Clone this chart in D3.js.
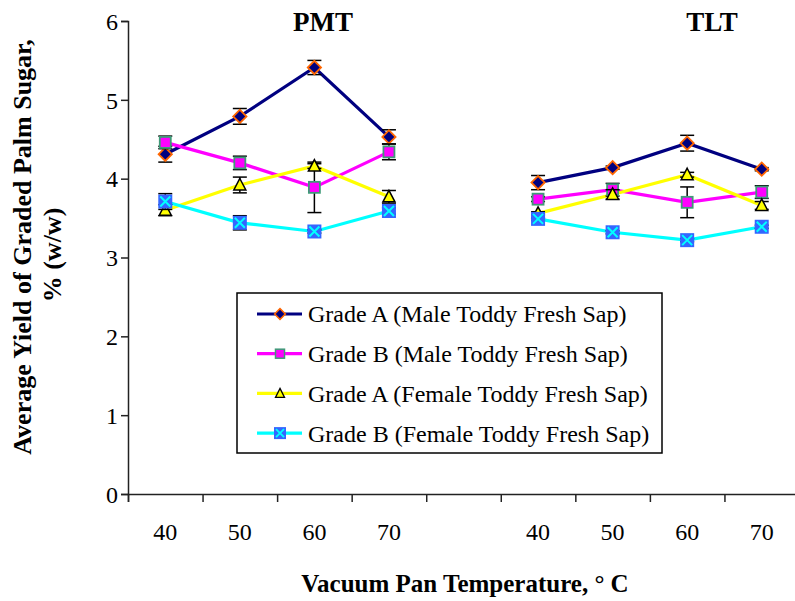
<!DOCTYPE html>
<html>
<head>
<meta charset="utf-8">
<script src="https://cdn.jsdelivr.net/npm/d3@7"></script>
<style>
  body { margin: 0; background: #fff; }
  svg { display: block; font-family: "Liberation Serif", "Times New Roman", serif; }
</style>
</head>
<body>
<div id="chart"></div>
<script>
// Category slots: PMT 40-70, an empty gap, TLT 40-70
const tickLabels = ["40", "50", "60", "70", "", "40", "50", "60", "70"];
const groups = ["PMT", "TLT"];
const pmtSlots = [0, 1, 2, 3];
const tltSlots = [5, 6, 7, 8];

// Average yield values (PMT then TLT)
const gradeAMale = { pmt: [4.31, 4.79, 5.41, 4.53], tlt: [3.95, 4.14, 4.45, 4.12] };
const gradeBMale = { pmt: [4.46, 4.20, 3.89, 4.34], tlt: [3.74, 3.86, 3.70, 3.83] };
const gradeAFemale = { pmt: [3.60, 3.92, 4.16, 3.77], tlt: [3.56, 3.80, 4.05, 3.66] };
const gradeBFemale = { pmt: [3.71, 3.44, 3.33, 3.59], tlt: [3.49, 3.32, 3.22, 3.39] };

// Error bar half-widths
const errAMale = { pmt: [0.10, 0.10, 0.09, 0.09], tlt: [0.09, 0.02, 0.10, 0.02] };
const errBMale = { pmt: [0.08, 0.085, 0.32, 0.10], tlt: [0.03, 0.08, 0.195, 0.08] };
const errAFemale = { pmt: [0.07, 0.10, 0.03, 0.08], tlt: [0.02, 0.06, 0.03, 0.05] };
const errBFemale = { pmt: [0.10, 0.09, 0.02, 0.04], tlt: [0.02, 0.02, 0.02, 0.02] };

const seriesNames = [
  "Grade A (Male Toddy Fresh Sap)",
  "Grade B (Male Toddy Fresh Sap)",
  "Grade A (Female Toddy Fresh Sap)",
  "Grade B (Female Toddy Fresh Sap)"
];
const yTicks = [0, 1, 2, 3, 4, 5, 6];

// Layout
const W = 795, H = 601;
const plot = { left: 128, right: 799, top: 21, bottom: 494 };

const svg = d3.select("#chart").append("svg")
  .attr("width", W)
  .attr("height", H);

const xBand = d3.scaleBand()
  .domain(d3.range(tickLabels.length))
  .range([plot.left, plot.right])
  .paddingInner(0).paddingOuter(0);

const xEdge = d3.scaleLinear()
  .domain([0, tickLabels.length])
  .range([plot.left, plot.right]);

const yScale = d3.scaleLinear()
  .domain([0, 6])
  .range([plot.bottom, plot.top]);

const cx = i => xBand(i) + xBand.bandwidth() / 2;

// styles per series
const styles = [
  { line: "#000080", marker: "diamond", fill: "#000080", stroke: "#FF6600" },
  { line: "#FF00FF", marker: "square", fill: "#FF00FF", stroke: "#3F9A78" },
  { line: "#FFFF00", marker: "triangle", fill: "#FFFF00", stroke: "#000000" },
  { line: "#00FFFF", marker: "xsquare", fill: "#3366FF", stroke: "#00FFFF" }
];

// build series from the arrays
const allSeries = [
  [gradeAMale, errAMale],
  [gradeBMale, errBMale],
  [gradeAFemale, errAFemale],
  [gradeBFemale, errBFemale]
].map(([vals, errs], k) => ({
  name: seriesNames[k],
  style: styles[k],
  segments: [
    pmtSlots.map((s, i) => ({ slot: s, v: vals.pmt[i], e: errs.pmt[i] })),
    tltSlots.map((s, i) => ({ slot: s, v: vals.tlt[i], e: errs.tlt[i] }))
  ]
}));

// draw one marker at (x, y)
function drawMarker(g, type, st, x, y) {
  if (type === "diamond") {
    g.append("path")
      .attr("d", d3.symbol().type(d3.symbolSquare).size(88)())
      .attr("transform", `translate(${x},${y}) rotate(45)`)
      .attr("fill", st.fill).attr("stroke", st.stroke).attr("stroke-width", 1.8);
  } else if (type === "square") {
    g.append("rect")
      .attr("x", x - 5.5).attr("y", y - 5.5).attr("width", 11).attr("height", 11)
      .attr("fill", st.fill).attr("stroke", st.stroke).attr("stroke-width", 1.8);
  } else if (type === "triangle") {
    g.append("path")
      .attr("d", `M${x},${y - 6.5}L${x + 6},${y + 5}L${x - 6},${y + 5}Z`)
      .attr("fill", st.fill).attr("stroke", st.stroke).attr("stroke-width", 1.5)
      .attr("stroke-linejoin", "miter");
  } else {
    g.append("rect")
      .attr("x", x - 7).attr("y", y - 7).attr("width", 14).attr("height", 14)
      .attr("fill", st.fill);
    g.append("path")
      .attr("d", `M${x - 5},${y - 5}L${x + 5},${y + 5}M${x + 5},${y - 5}L${x - 5},${y + 5}`)
      .attr("stroke", st.stroke).attr("stroke-width", 2);
  }
}

// axes
const yAxis = d3.axisLeft(yScale).tickValues(yTicks).tickSize(7).tickPadding(3).tickFormat(d3.format("d"));
const yG = svg.append("g").attr("transform", `translate(${plot.left},0)`).call(yAxis);
yG.select(".domain").attr("stroke", "#222").attr("stroke-width", 1.5);
yG.selectAll(".tick line").attr("stroke", "#222").attr("stroke-width", 1.5);
yG.selectAll("text").attr("font-size", 24).attr("font-family", "Liberation Serif").attr("fill", "#000").attr("dy", "0.34em");

const xTickAxis = d3.axisBottom(xEdge).tickValues(d3.range(tickLabels.length + 1)).tickSize(8).tickFormat("");
const xG = svg.append("g").attr("transform", `translate(0,${plot.bottom})`).call(xTickAxis);
xG.select(".domain").attr("stroke", "#222").attr("stroke-width", 1.5);
xG.selectAll(".tick line").attr("stroke", "#222").attr("stroke-width", 1.5);

const xLabAxis = d3.axisBottom(xBand).tickSize(0).tickPadding(29).tickFormat(i => tickLabels[i]);
const xl = svg.append("g").attr("transform", `translate(0,${plot.bottom})`).call(xLabAxis);
xl.select(".domain").remove();
xl.selectAll("text").attr("font-size", 24).attr("font-family", "Liberation Serif").attr("fill", "#000");

// lines
const line = d3.line().x(d => cx(d.slot)).y(d => yScale(d.v));
allSeries.forEach(s => {
  s.segments.forEach(seg => {
    svg.append("path")
      .datum(seg)
      .attr("d", line)
      .attr("fill", "none")
      .attr("stroke", s.style.line)
      .attr("stroke-width", 3.2);
  });
});

// error bars and markers, series by series
allSeries.forEach(s => {
  const g = svg.append("g");
  s.segments.flat().forEach(d => {
    const x = cx(d.slot);
    const y0 = yScale(d.v - d.e), y1 = yScale(d.v + d.e);
    g.append("line").attr("x1", x).attr("x2", x).attr("y1", y0).attr("y2", y1)
      .attr("stroke", "#000").attr("stroke-width", 1.5);
    [y0, y1].forEach(yy => {
      g.append("line").attr("x1", x - 7).attr("x2", x + 7).attr("y1", yy).attr("y2", yy)
        .attr("stroke", "#000").attr("stroke-width", 1.5);
    });
  });
  s.segments.flat().forEach(d => drawMarker(g, s.style.marker, s.style, cx(d.slot), yScale(d.v)));
});

// group titles
svg.append("text").attr("x", 323).attr("y", 31).attr("text-anchor", "middle")
  .attr("font-size", 27).attr("font-weight", "bold").text(groups[0]);
svg.append("text").attr("x", 712).attr("y", 31).attr("text-anchor", "middle")
  .attr("font-size", 27).attr("font-weight", "bold").text(groups[1]);

// axis titles
svg.append("text")
  .attr("transform", "translate(31,247) rotate(-90)")
  .attr("text-anchor", "middle").attr("font-size", 26).attr("font-weight", "bold")
  .text("Average Yield of Graded Palm Sugar,");
svg.append("text")
  .attr("transform", "translate(61,255) rotate(-90)")
  .attr("text-anchor", "middle").attr("font-size", 26).attr("font-weight", "bold")
  .text("% (w/w)");
svg.append("text")
  .attr("x", 465).attr("y", 592).attr("text-anchor", "middle")
  .attr("font-size", 25).attr("font-weight", "bold")
  .text("Vacuum Pan Temperature, \u00B0 C");

// legend
const legend = svg.append("g");
legend.append("rect")
  .attr("x", 237).attr("y", 293).attr("width", 425).attr("height", 160)
  .attr("fill", "#fff").attr("stroke", "#000").attr("stroke-width", 1.5);
allSeries.forEach((s, i) => {
  const y = 314 + i * 39.7;
  legend.append("line").attr("x1", 257).attr("x2", 302).attr("y1", y).attr("y2", y)
    .attr("stroke", s.style.line).attr("stroke-width", 3.2);
  const lg = legend.append("g");
  if (s.style.marker === "xsquare") {
    lg.append("rect").attr("x", 274).attr("y", y - 6).attr("width", 12).attr("height", 12).attr("fill", s.style.fill);
    lg.append("path").attr("d", `M${276},${y - 4}L${284},${y + 4}M${284},${y - 4}L${276},${y + 4}`)
      .attr("stroke", s.style.stroke).attr("stroke-width", 1.8);
  } else if (s.style.marker === "triangle") {
    lg.append("path").attr("d", `M280,${y - 5}L${284.5},${y + 4}L${275.5},${y + 4}Z`)
      .attr("fill", s.style.fill).attr("stroke", "#000").attr("stroke-width", 1.3);
  } else if (s.style.marker === "square") {
    lg.append("rect").attr("x", 275.5).attr("y", y - 4.5).attr("width", 9).attr("height", 9)
      .attr("fill", s.style.fill).attr("stroke", s.style.stroke).attr("stroke-width", 1.5);
  } else {
    lg.append("path").attr("d", d3.symbol().type(d3.symbolSquare).size(58)())
      .attr("transform", `translate(280,${y}) rotate(45)`)
      .attr("fill", s.style.fill).attr("stroke", s.style.stroke).attr("stroke-width", 1.5);
  }
  legend.append("text").attr("x", 308).attr("y", y).attr("dy", "0.35em")
    .attr("font-size", 24).text(s.name);
});
</script>
</body>
</html>
